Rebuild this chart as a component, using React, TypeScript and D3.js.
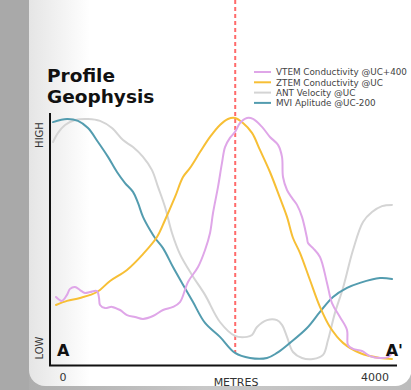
import React from "react";
import * as d3 from "d3";

// Profile positions (metres along A–A') and relative responses (0 = low, 100 = high)
const mviX = [0, 165, 295, 413, 531, 649, 755, 850, 944, 1003, 1062, 1145, 1204, 1298, 1416, 1522, 1652, 1794, 1970, 2148, 2325, 2525, 2643, 2796, 2997, 3150, 3304, 3469, 3622, 3858, 4000];
const mviY = [98.3, 99.6, 98.8, 95.8, 90, 83.8, 77.5, 72.9, 69.2, 64.6, 58.8, 53.3, 50, 45.8, 37.9, 31.3, 23.3, 14.6, 8.8, 2.1, 0, 0, 2.1, 6.3, 12.5, 19.2, 25.4, 29.2, 31.3, 33.3, 32.9];

const antX = [0, 59, 142, 260, 413, 555, 696, 826, 944, 1062, 1168, 1239, 1322, 1404, 1498, 1640, 1794, 1970, 2148, 2289, 2348, 2407, 2525, 2643, 2702, 2761, 2832, 2938, 3068, 3186, 3245, 3327, 3422, 3540, 3658, 3764, 3882, 4000];
const antY = [90, 93.8, 97.1, 99.2, 99.6, 98.8, 95.8, 90.8, 87.9, 83.8, 78.3, 71.3, 62.9, 52.1, 43.3, 34.6, 26.3, 15, 9.2, 8.8, 9.6, 12.9, 15.8, 15.8, 13.8, 8.8, 2.5, 0, -0.4, 1.3, 7.5, 18.8, 29.2, 45, 56.7, 60.8, 63.3, 63.8];

const ztemX = [35, 165, 319, 519, 673, 873, 1062, 1227, 1322, 1440, 1534, 1617, 1735, 1853, 1970, 2065, 2148, 2242, 2348, 2442, 2560, 2678, 2761, 2832, 2914, 3032, 3150, 3268, 3422, 3622, 3858, 4000];
const ztemY = [22.1, 23.8, 25, 27.5, 32.1, 36.7, 43.3, 50.4, 57.5, 67.1, 75.4, 79.2, 85.8, 92.1, 97.1, 99.6, 100, 97.9, 93.8, 86.7, 77.5, 66.7, 58.8, 50, 43.8, 32.5, 21.3, 12.9, 6.3, 2.1, 0, -0.4];

const vtemX = [35, 106, 165, 201, 260, 319, 378, 437, 519, 543, 555, 614, 696, 791, 873, 968, 1062, 1180, 1298, 1416, 1498, 1593, 1711, 1794, 1853, 1888, 1947, 1994, 2030, 2088, 2148, 2207, 2289, 2360, 2466, 2560, 2655, 2702, 2714, 2761, 2820, 2879, 2938, 2997, 3009, 3068, 3150, 3233, 3292, 3386, 3469, 3481, 3540, 3646, 3740, 3858, 3953, 4000];
const vtemY = [25.4, 23.8, 26.3, 28.8, 29.6, 28.3, 27.1, 27.5, 27.9, 25, 22.1, 20.8, 21.3, 20, 17.9, 17.1, 16.3, 17.5, 20, 21.3, 23.3, 31.7, 37.9, 45, 52.1, 60.4, 71.3, 81.3, 87.9, 91.7, 94.2, 97.9, 100, 99.6, 96.3, 92.1, 88.8, 83.8, 75.4, 70, 66.7, 63.8, 58.8, 50, 47.9, 45.8, 42.1, 31.3, 22.9, 17.1, 11.7, 5.4, 3.8, 2.9, 0.8, 0, 0.4, 2.1];

const seriesNames = ["VTEM Conductivity @UC+400", "ZTEM Conductivity @UC", "ANT Velocity @UC", "MVI Aplitude @UC-200"];
const seriesColors = ["#dfa6e8", "#f7bf35", "#d4d4d4", "#539caf"];
const xTickLabels = ["0", "4000"];
const ucMetres = 2150;

export default function App() {
  const W = 411;
  const H = 390;
  const x = d3.scaleLinear().domain([0, 4000]).range([53, 392]);
  const y = d3.scaleLinear().domain([0, 100]).range([358, 118]);

  const line = d3
    .line<[number, number]>()
    .x((d) => x(d[0]))
    .y((d) => y(d[1]))
    .curve(d3.curveCatmullRom.alpha(0.5));

  const pairs = (xs: number[], ys: number[]) => xs.map((v, i) => [v, ys[i]] as [number, number]);
  const series = [
    pairs(vtemX, vtemY),
    pairs(ztemX, ztemY),
    pairs(antX, antY),
    pairs(mviX, mviY),
  ];
  // draw order: ANT underneath, then MVI, ZTEM, VTEM
  const drawOrder = [2, 3, 1, 0];

  const font = "'DejaVu Sans', Verdana, sans-serif";

  return (
    <svg
      width={W}
      height={H}
      viewBox={`0 0 ${W} ${H}`}
      style={{ position: "absolute", left: 0, top: 0, display: "block" }}
    >
      <defs>
        <linearGradient id="panelFill" x1="29" x2="90" y1="0" y2="0" gradientUnits="userSpaceOnUse">
          <stop offset="0" stopColor="#e5e5e5" />
          <stop offset="1" stopColor="#ffffff" />
        </linearGradient>
        <linearGradient id="baseFill" x1="0" x2="411" y1="0" y2="0" gradientUnits="userSpaceOnUse">
          <stop offset="0" stopColor="#a9a9a9" />
          <stop offset="0.5" stopColor="#c8c8c8" />
          <stop offset="1" stopColor="#bcbcbc" />
        </linearGradient>
      </defs>
      <rect x={0} y={0} width={W} height={H} fill="url(#baseFill)" />
      <rect x={0} y={0} width={29} height={H} fill="#a9a9a9" />
      <rect x={29} y={-30} width={W - 29 + 0.5} height={416} rx={16} ry={16} fill="url(#panelFill)" />

      {/* Title */}
      <text x={47} y={81.5} fontFamily={font} fontWeight="bold" fontSize={18.5} fill="#111">
        Profile
      </text>
      <text x={47} y={103} fontFamily={font} fontWeight="bold" fontSize={18.5} fill="#111">
        Geophysis
      </text>

      {/* UC marker */}
      <line
        x1={x(ucMetres)}
        x2={x(ucMetres)}
        y1={0}
        y2={353}
        stroke="#ff6b6b"
        strokeWidth={2}
        strokeDasharray="4,3"
      />

      {/* Profiles */}
      {drawOrder.map((i) => (
        <path
          key={seriesNames[i]}
          d={line(series[i]) || ""}
          fill="none"
          stroke={seriesColors[i]}
          strokeWidth={2}
          strokeLinejoin="round"
          strokeLinecap="round"
        />
      ))}

      {/* Axes */}
      <line x1={50} x2={50} y1={113} y2={366} stroke="#111" strokeWidth={2} />
      <line x1={49} x2={397} y1={365.5} y2={365.5} stroke="#111" strokeWidth={2} />

      <text
        transform="translate(43,135) rotate(-90)"
        textAnchor="middle"
        fontFamily={font}
        fontSize={10}
        fill="#333"
      >
        HIGH
      </text>
      <text
        transform="translate(43,348) rotate(-90)"
        textAnchor="middle"
        fontFamily={font}
        fontSize={10}
        fill="#333"
      >
        LOW
      </text>

      <text x={57} y={356} fontFamily={font} fontWeight="bold" fontSize={16} fill="#111">
        A
      </text>
      <text x={403} y={356} textAnchor="end" fontFamily={font} fontWeight="bold" fontSize={16} fill="#111">
        A'
      </text>

      <text x={x(0) + 10} y={381} textAnchor="middle" fontFamily={font} fontSize={11} fill="#333">
        {xTickLabels[0]}
      </text>
      <text x={x(4000) - 17} y={381} textAnchor="middle" fontFamily={font} fontSize={11} fill="#333">
        {xTickLabels[1]}
      </text>
      <text x={236} y={386} textAnchor="middle" fontFamily={font} fontSize={11} fill="#333">
        METRES
      </text>

      {/* Legend */}
      {seriesNames.map((name, i) => (
        <g key={name} transform={`translate(254, ${72 + i * 10.3})`}>
          <line x1={0} x2={17} y1={0} y2={0} stroke={seriesColors[i]} strokeWidth={2} />
          <text x={22} y={3.2} fontFamily={font} fontSize={8.8} fill="#444">
            {name}
          </text>
        </g>
      ))}
    </svg>
  );
}
